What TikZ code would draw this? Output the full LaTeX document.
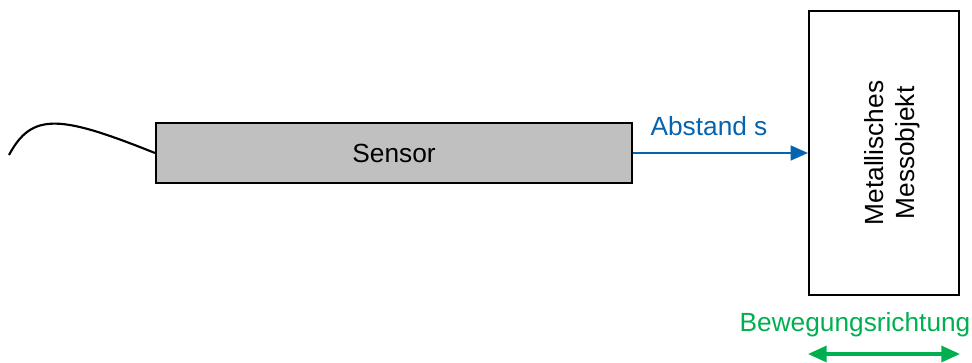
\documentclass[tikz,border=0pt]{standalone}
\usepackage{fontspec}
\setmainfont{Liberation Sans}
\usetikzlibrary{arrows.meta}
\definecolor{sblue}{HTML}{0563B0}
\definecolor{sgreen}{HTML}{00B050}
\definecolor{sgray}{HTML}{C0C0C0}
\tikzset{
  box/.style={draw=black, line width=1.5pt},
  lbl/.style={font=\fontsize{19.7}{23.5}\selectfont, inner sep=0pt},
}
\begin{document}
\begin{tikzpicture}[x=0.75pt,y=-0.75pt]
\useasboundingbox (0,0) rectangle (972,363);
\node[box, fill=sgray, minimum width=476*0.75pt, minimum height=60*0.75pt, inner sep=0pt, anchor=north west, lbl] (sensor) at (155,122) {Sensor};
\node[box, minimum width=150*0.75pt, minimum height=284*0.75pt, inner sep=0pt, anchor=north west] (obj) at (808,10) {};
\node[lbl, rotate=90, align=center, font=\fontsize{19.7}{23.5}\selectfont] (objtxt) at (892,153) {Metallisches\\Messobjekt};
\coordinate (cab) at (9,155);
\draw[line width=1.6pt] (cab) .. controls (32,112) and (60,115) .. (sensor.west);
\draw[sblue, line width=1.8pt, -{Triangle[length=13pt,width=11pt]}] (sensor.east) -- (obj.west);
\node[lbl, text=sblue] (abst) at (709,126) {Abstand s};
\node[lbl, text=sgreen] (beweg) at (855,325) {Bewegungsrichtung};
\coordinate (gl) at (808,354);
\coordinate (gr) at (960,354);
\draw[sgreen, line width=2.4pt, {Triangle[length=14pt,width=12pt]}-{Triangle[length=14pt,width=12pt]}] (gl) -- (gr);
\end{tikzpicture}
\end{document}
